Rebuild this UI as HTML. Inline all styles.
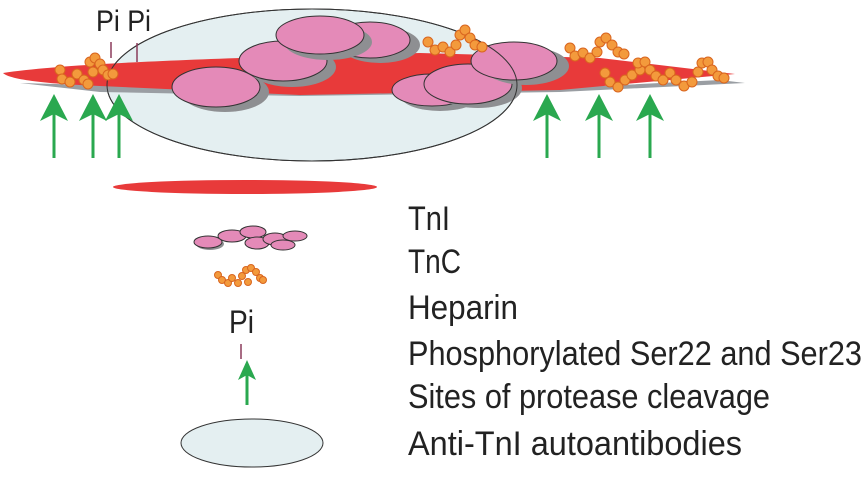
<!DOCTYPE html>
<html><head><meta charset="utf-8"><style>html,body{margin:0;padding:0;background:#fff}svg{display:block}</style></head><body>
<svg width="863" height="485" viewBox="0 0 863 485" xmlns="http://www.w3.org/2000/svg" font-family="Liberation Sans, sans-serif">
<defs>
<g id="bead"><circle r="5" fill="#f39a3c" stroke="#d9651f" stroke-width="1"/></g>
<g id="arr"><line x1="0" y1="108" x2="0" y2="158" stroke="#2aa84f" stroke-width="3"/><polygon points="0,94 -14,121 0,114 14,121" fill="#2aa84f"/></g>
</defs>
<ellipse cx="312" cy="85" rx="205" ry="76" fill="#e4eff1" stroke="#333" stroke-width="1"/>
<polygon points="20,83 200,88 400,90 560,88 720,80 745,83 560,92 300,96 100,92" fill="#9a9ea3"/>
<path d="M3,73 C60,64 200,58 420,53 L600,58 L735,74 L560,90 L300,95 L100,86 C50,84 10,80 3,73 Z" fill="#e83a3a"/>
<g stroke="#333" stroke-width="1">
<ellipse cx="225" cy="92" rx="44" ry="20" fill="#8e8f92" stroke="none"/>
<ellipse cx="216" cy="87" rx="44" ry="20" fill="#e48ab8"/>
<ellipse cx="292" cy="67" rx="44" ry="20" fill="#8e8f92" stroke="none"/>
<ellipse cx="283" cy="61" rx="44" ry="20" fill="#e48ab8"/>
<ellipse cx="380" cy="45" rx="40" ry="18" fill="#8e8f92" stroke="none"/>
<ellipse cx="370" cy="40" rx="40" ry="18" fill="#e48ab8"/>
<ellipse cx="328" cy="42" rx="44" ry="18" fill="#8e8f92" stroke="none"/>
<ellipse cx="320" cy="35" rx="44" ry="19" fill="#e48ab8"/>
<ellipse cx="440" cy="95" rx="40" ry="16" fill="#8e8f92" stroke="none"/>
<ellipse cx="432" cy="90" rx="40" ry="16" fill="#e48ab8"/>
<ellipse cx="478" cy="88" rx="44" ry="20" fill="#8e8f92" stroke="none"/>
<ellipse cx="468" cy="84" rx="44" ry="20" fill="#e48ab8"/>
<ellipse cx="526" cy="66" rx="43" ry="19" fill="#8e8f92" stroke="none"/>
<ellipse cx="514" cy="61" rx="43" ry="19" fill="#e48ab8"/>
</g>
<ellipse cx="312" cy="85" rx="205" ry="76" fill="none" stroke="#333" stroke-width="1"/>
<g>
<use href="#bead" x="60" y="70"/><use href="#bead" x="62" y="79"/><use href="#bead" x="70" y="82"/><use href="#bead" x="77" y="74"/><use href="#bead" x="84" y="80"/><use href="#bead" x="90" y="62"/><use href="#bead" x="95" y="58"/><use href="#bead" x="100" y="64"/><use href="#bead" x="93" y="72"/><use href="#bead" x="103" y="70"/><use href="#bead" x="108" y="75"/><use href="#bead" x="88" y="84"/><use href="#bead" x="113" y="74"/>
<use href="#bead" x="428" y="42"/><use href="#bead" x="435" y="50"/><use href="#bead" x="443" y="47"/><use href="#bead" x="450" y="52"/><use href="#bead" x="456" y="45"/><use href="#bead" x="460" y="35"/><use href="#bead" x="465" y="30"/><use href="#bead" x="470" y="38"/><use href="#bead" x="475" y="45"/><use href="#bead" x="482" y="47"/>
<use href="#bead" x="570" y="48"/><use href="#bead" x="575" y="56"/><use href="#bead" x="583" y="53"/><use href="#bead" x="590" y="58"/><use href="#bead" x="597" y="52"/><use href="#bead" x="600" y="42"/><use href="#bead" x="606" y="38"/><use href="#bead" x="612" y="45"/><use href="#bead" x="618" y="52"/><use href="#bead" x="624" y="54"/>
<use href="#bead" x="605" y="73"/><use href="#bead" x="610" y="82"/><use href="#bead" x="618" y="87"/><use href="#bead" x="625" y="80"/><use href="#bead" x="632" y="75"/><use href="#bead" x="640" y="70"/><use href="#bead" x="638" y="63"/><use href="#bead" x="645" y="62"/><use href="#bead" x="650" y="70"/><use href="#bead" x="656" y="76"/><use href="#bead" x="663" y="80"/><use href="#bead" x="670" y="73"/><use href="#bead" x="676" y="80"/><use href="#bead" x="684" y="86"/><use href="#bead" x="692" y="82"/><use href="#bead" x="698" y="72"/><use href="#bead" x="702" y="63"/><use href="#bead" x="708" y="62"/><use href="#bead" x="712" y="70"/><use href="#bead" x="718" y="76"/><use href="#bead" x="724" y="78"/>
</g>
<text x="96" y="31" font-size="30" fill="#222" textLength="55" lengthAdjust="spacingAndGlyphs">Pi Pi</text>
<line x1="111" y1="42" x2="111" y2="58" stroke="#8a3a5a" stroke-width="1.5"/>
<line x1="137" y1="43" x2="137" y2="62" stroke="#8a3a5a" stroke-width="1.5"/>
<use href="#arr" x="54"/><use href="#arr" x="93"/><use href="#arr" x="119"/>
<use href="#arr" x="547"/><use href="#arr" x="599"/><use href="#arr" x="650"/>
<ellipse cx="245" cy="187" rx="132" ry="7" fill="#e83a3a"/>
<g stroke="#333" stroke-width="1" fill="#e48ab8">
<ellipse cx="210" cy="244" rx="14" ry="6" fill="#8e8f92" stroke="none"/>
<ellipse cx="208" cy="242" rx="14" ry="6"/>
<ellipse cx="232" cy="236" rx="14" ry="6"/>
<ellipse cx="253" cy="232" rx="13" ry="6"/>
<ellipse cx="257" cy="243" rx="12" ry="6"/>
<ellipse cx="275" cy="239" rx="12" ry="6"/>
<ellipse cx="283" cy="245" rx="12" ry="5"/>
<ellipse cx="295" cy="236" rx="12" ry="5"/>
</g>
<g fill="#f39a3c" stroke="#d9651f">
<circle cx="218" cy="275" r="3.5"/><circle cx="222" cy="280" r="3.5"/><circle cx="228" cy="283" r="3.5"/><circle cx="232" cy="278" r="3.5"/><circle cx="238" cy="283" r="3.5"/><circle cx="242" cy="276" r="3.5"/><circle cx="246" cy="270" r="3.5"/><circle cx="251" cy="268" r="3.5"/><circle cx="256" cy="272" r="3.5"/><circle cx="260" cy="278" r="3.5"/><circle cx="248" cy="282" r="3.5"/><circle cx="263" cy="280" r="3.5"/>
</g>
<text x="229" y="333" font-size="32" fill="#222" textLength="25" lengthAdjust="spacingAndGlyphs">Pi</text>
<line x1="241" y1="344" x2="241" y2="359" stroke="#8a3a5a" stroke-width="1.5"/>
<line x1="247" y1="372" x2="247" y2="405" stroke="#2aa84f" stroke-width="3"/>
<polygon points="247,360 238,380 247,375 256,380" fill="#2aa84f"/>
<ellipse cx="252" cy="443" rx="71" ry="24" fill="#e4eff1" stroke="#333" stroke-width="1"/>
<g font-size="34" fill="#222">
<text x="408" y="230" textLength="42" lengthAdjust="spacingAndGlyphs">TnI</text>
<text x="408" y="273" textLength="53" lengthAdjust="spacingAndGlyphs">TnC</text>
<text x="408" y="319" textLength="110" lengthAdjust="spacingAndGlyphs">Heparin</text>
<text x="408" y="365" textLength="454" lengthAdjust="spacingAndGlyphs">Phosphorylated Ser22 and Ser23</text>
<text x="408" y="408" textLength="362" lengthAdjust="spacingAndGlyphs">Sites of protease cleavage</text>
<text x="408" y="455" textLength="334" lengthAdjust="spacingAndGlyphs">Anti-TnI autoantibodies</text>
</g>
</svg>
</body></html>
